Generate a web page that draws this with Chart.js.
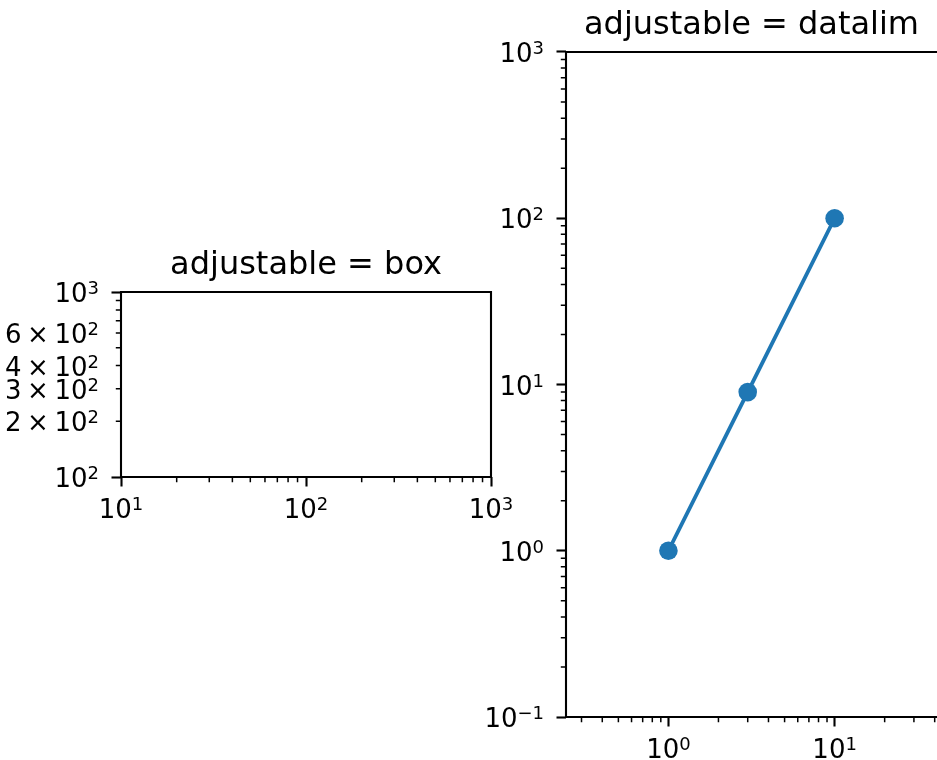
<!DOCTYPE html>
<html>
<head>
<meta charset="utf-8">
<script src="https://cdn.jsdelivr.net/npm/chart.js@4.4.1/dist/chart.umd.min.js"></script>
<style>
  body { margin: 0; background: #fff; }
  .wrap { position: relative; width: 937px; height: 760px; overflow: hidden; }
  canvas { position: absolute; left: 0; top: 0; }
</style>
</head>
<body>
<div class="wrap">
  <canvas id="boxChart" width="937" height="760"></canvas>
  <canvas id="datalimChart" width="937" height="760"></canvas>
</div>
<script>
// Left panel (adjustable = box): empty axes
const boxXRange = [10, 1000];
const boxYRange = [100, 1000];
const boxXTicks = [10, 100, 1000];
const boxXLabels = ['10^1', '10^2', '10^3'];
const boxYTicks = [100, 200, 300, 400, 600, 1000];
const boxYLabels = ['10^2', '2 × 10^2', '3 × 10^2', '4 × 10^2', '6 × 10^2', '10^3'];

// Right panel (adjustable = datalim)
const xs = [1, 3, 10];
const ys = [1, 9, 100];
const limXRange = [0.242, 41.3];
const limYRange = [0.1, 1000];
const limXTicks = [1, 10];
const limXLabels = ['10^0', '10^1'];
const limYTicks = [0.1, 1, 10, 100, 1000];
const limYLabels = ['10^−1', '10^0', '10^1', '10^2', '10^3'];

const FONT = "'DejaVu Sans', 'Noto Sans', sans-serif";
const TICK_SIZE = 26;
const SUP_SIZE = 18;
const BLUE = '#1f77b4';

function isDecade(v) {
    const l = Math.log10(v);
    return Math.abs(l - Math.round(l)) < 1e-9;
}

// positions of the short (minor) ticks between decades
function minorTicks(range) {
    const out = [];
    const lo = Math.floor(Math.log10(range[0]));
    const hi = Math.ceil(Math.log10(range[1]));
    for (let e = lo; e < hi; e++) {
        for (let k = 2; k <= 9; k++) {
            const v = k * Math.pow(10, e);
            if (v >= range[0] && v <= range[1]) out.push(v);
        }
    }
    return out;
}

// "6 × 10^2" -> pieces with math-style spacing and a raised exponent
function drawLabel(ctx, text, x, y, align) {
    const parts = text.split('^');
    const exp = parts[1] || '';
    const pieces = parts[0].split(' × ');
    const gap = 5.6;
    ctx.font = TICK_SIZE + 'px ' + FONT;
    const ws = [];
    let total = 0;
    pieces.forEach((p, i) => {
        if (i > 0) {
            ws.push(ctx.measureText('×').width);
            total += ws[ws.length - 1] + 2 * gap;
        }
        ws.push(ctx.measureText(p).width);
        total += ws[ws.length - 1];
    });
    ctx.font = SUP_SIZE + 'px ' + FONT;
    total += ctx.measureText(exp).width;

    let cx = align === 'right' ? x - total : x - total / 2;
    ctx.textAlign = 'left';
    ctx.textBaseline = 'alphabetic';
    ctx.font = TICK_SIZE + 'px ' + FONT;
    let k = 0;
    pieces.forEach((p, i) => {
        if (i > 0) {
            cx += gap;
            ctx.fillText('×', cx, y);
            cx += ws[k++] + gap;
        }
        ctx.fillText(p, cx, y);
        cx += ws[k++];
    });
    ctx.font = SUP_SIZE + 'px ' + FONT;
    ctx.fillText(exp, cx, y - 8);
}

// spines, minor tick marks and tick labels
function axesPlugin(xTicks, xLabels, yTicks, yLabels, minX, minY) {
    return {
        id: 'mplAxes',
        afterDraw(chart) {
            const ctx = chart.ctx;
            const a = chart.chartArea;
            const sx = chart.scales.x, sy = chart.scales.y;
            ctx.save();
            ctx.strokeStyle = '#000';
            ctx.lineWidth = 1.5;
            ctx.beginPath();
            minX.forEach(v => {
                const px = sx.getPixelForValue(v);
                ctx.moveTo(px, a.bottom);
                ctx.lineTo(px, a.bottom + 5.2);
            });
            minY.forEach(v => {
                const py = sy.getPixelForValue(v);
                ctx.moveTo(a.left - 5.2, py);
                ctx.lineTo(a.left, py);
            });
            ctx.stroke();

            ctx.lineWidth = 2.1;
            ctx.lineCap = 'square';
            ctx.beginPath();
            ctx.moveTo(a.left, a.bottom);
            ctx.lineTo(a.left, a.top);
            ctx.lineTo(a.right, a.top);
            if (a.right < chart.width - 1) {
                ctx.lineTo(a.right, a.bottom);
            } else {
                ctx.moveTo(a.right, a.bottom);
            }
            ctx.lineTo(a.left, a.bottom);
            ctx.stroke();

            ctx.fillStyle = '#000';
            xTicks.forEach((v, i) => {
                drawLabel(ctx, xLabels[i], sx.getPixelForValue(v), a.bottom + 41, 'center');
            });
            yTicks.forEach((v, i) => {
                drawLabel(ctx, yLabels[i], a.left - 22, sy.getPixelForValue(v) + 10, 'right');
            });
            ctx.restore();
        }
    };
}

function logAxis(range, ticks, size) {
    return {
        type: 'logarithmic',
        min: range[0],
        max: range[1],
        border: { display: false },
        grid: {
            drawOnChartArea: false,
            drawTicks: true,
            tickLength: 9.5,
            tickWidth: 2.1,
            tickColor: ctx => (ctx.tick && isDecade(ctx.tick.value)) ? '#000' : 'rgba(0,0,0,0)'
        },
        afterBuildTicks: scale => {
            scale.ticks = ticks.map(v => ({ value: v }));
        },
        afterFit: scale => {
            if (scale.isHorizontal()) scale.height = size; else scale.width = size;
            scale.paddingLeft = scale.paddingRight = 0;
            scale.paddingTop = scale.paddingBottom = 0;
        },
        ticks: { display: false, autoSkip: false }
    };
}

function titleOpts(text) {
    return {
        display: true,
        fullSize: false,
        text: text,
        color: '#000',
        font: { family: FONT, size: 32, weight: 'normal', lineHeight: 1.2 },
        padding: { top: 0, bottom: 6.8 }
    };
}

Chart.defaults.animation = false;

// Left: adjustable = box
new Chart(document.getElementById('boxChart'), {
    type: 'line',
    data: { datasets: [] },
    options: {
        responsive: false,
        layout: { autoPadding: false, padding: { left: 11, top: 246.8, right: 446, bottom: 223 } },
        plugins: { legend: { display: false }, tooltip: { enabled: false }, title: titleOpts('adjustable = box') },
        scales: {
            x: logAxis(boxXRange, boxXTicks, 60),
            y: logAxis(boxYRange, boxYTicks, 110)
        }
    },
    plugins: [axesPlugin(boxXTicks, boxXLabels, boxYTicks, boxYLabels,
        minorTicks(boxXRange), minorTicks(boxYRange))]
});

// Right: adjustable = datalim
new Chart(document.getElementById('datalimChart'), {
    type: 'line',
    data: {
        datasets: [{
            data: xs.map((x, i) => ({ x: x, y: ys[i] })),
            borderColor: BLUE,
            backgroundColor: BLUE,
            borderWidth: 3.9,
            pointRadius: 9.3,
            pointBorderWidth: 0,
            pointBackgroundColor: BLUE,
            tension: 0,
            fill: false
        }]
    },
    options: {
        responsive: false,
        layout: { autoPadding: false, padding: { left: 466, top: 6.8, right: 0, bottom: 3 } },
        plugins: { legend: { display: false }, tooltip: { enabled: false }, title: titleOpts('adjustable = datalim') },
        scales: {
            x: logAxis(limXRange, limXTicks, 40),
            y: logAxis(limYRange, limYTicks, 100)
        }
    },
    plugins: [axesPlugin(limXTicks, limXLabels, limYTicks, limYLabels,
        minorTicks(limXRange), minorTicks(limYRange))]
});
</script>
</body>
</html>
